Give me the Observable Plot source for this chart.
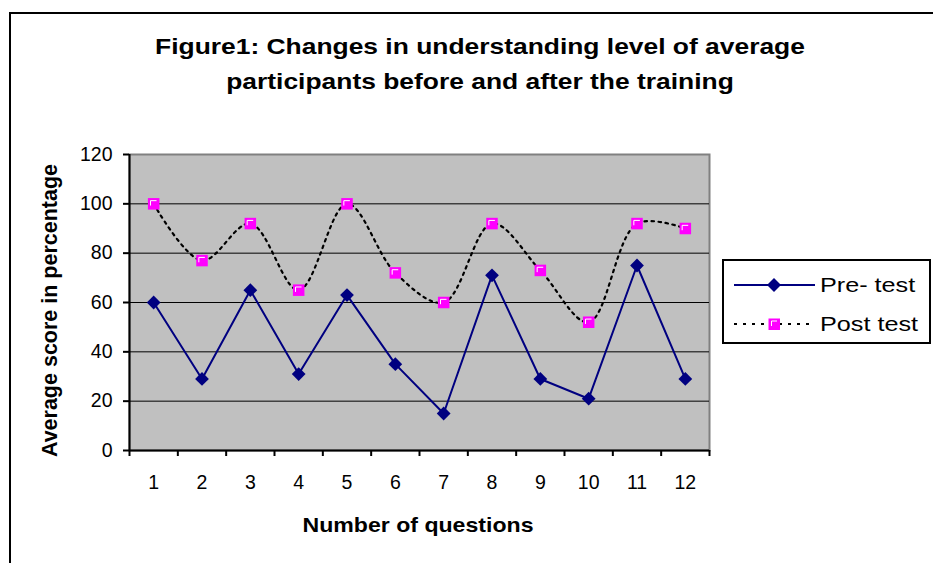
<!DOCTYPE html>
<html>
<head>
<meta charset="utf-8">
<script src="https://cdn.jsdelivr.net/npm/d3@7"></script>
<script src="https://cdn.jsdelivr.net/npm/@observablehq/plot@0.6"></script>
<style>
  html, body { margin: 0; padding: 0; background: #fff; }
  #wrap { position: relative; width: 933px; height: 563px; overflow: hidden; background: #fff;
          font-family: "Liberation Sans", Arial, sans-serif; color: #000; }
  #frame { position: absolute; left: 9px; top: 12px; width: 1200px; height: 1200px; border: 2px solid #000; box-sizing: border-box; }
  #plot { position: absolute; left: 0; top: 0; }
  .title { position: absolute; left: 0; top: 29px; width: 960px; text-align: center; font-weight: bold;
           font-size: 22px; line-height: 35px; transform: scaleX(1.2); transform-origin: 480px 0; }
  .xtitle { position: absolute; left: 218px; top: 514px; width: 400px; text-align: center; font-weight: bold;
            font-size: 21px; line-height: 21px; transform: scaleX(1.1); transform-origin: 200px 0; }
  .ytitle { position: absolute; left: -150px; top: 299.5px; width: 400px; text-align: center; font-weight: bold;
            font-size: 21.5px; line-height: 21px; transform: rotate(-90deg); transform-origin: 200px 10.5px; }
  #legend { position: absolute; left: 722px; top: 259px; width: 209px; height: 85px; border: 2px solid #000;
            box-sizing: border-box; background: #fff; }
  #legend .row { position: absolute; left: 0; height: 30px; width: 205px; }
  #legend svg { position: absolute; left: 8px; top: 0; }
  #legend span { position: absolute; left: 96px; top: 3px; font-size: 21px; line-height: 24px; transform: scaleX(1.2); transform-origin: 0 0; white-space: nowrap; }
</style>
</head>
<body>
<div id="wrap">
  <div id="frame"></div>
  <div id="plot"></div>
  <div class="title">Figure1: Changes in understanding level of average<br>participants before and after the training</div>
  <div class="ytitle">Average score in percentage</div>
  <div class="xtitle">Number of questions</div>
  <div id="legend"></div>
</div>
<script>
// ---- data ----
const questions = [1, 2, 3, 4, 5, 6, 7, 8, 9, 10, 11, 12];
const preTest  = [60, 29, 65, 31, 63, 35, 15, 71, 29, 21, 75, 29];
const postTest = [100, 77, 92, 65, 100, 72, 60, 92, 73, 52, 92, 90];
const yTicks = [0, 20, 40, 60, 80, 100, 120];
const seriesNames = ["Pre- test", "Post test"];

const preData = questions.map((q, i) => ({q, v: preTest[i]}));
const postData = questions.map((q, i) => ({q, v: postTest[i]}));
const boundaries = questions.map(q => q - 0.5).concat([questions[questions.length - 1] + 0.5]);
const gridValues = yTicks.filter(t => t > 0 && t < 120);

const NAVY = "#000080", MAGENTA = "#FF00FF";

// white corner glint drawn inside the magenta squares
const glint = {
  draw(context, size) {
    const h = Math.sqrt(size) / 2;
    context.moveTo(-h * 0.55, h * 0.3);
    context.lineTo(-h * 0.55, -h * 0.55);
    context.lineTo(h * 0.5, -h * 0.55);
  }
};

const chart = Plot.plot({
  width: 933,
  height: 563,
  marginLeft: 129,
  marginRight: 224,
  marginTop: 154,
  marginBottom: 113,
  style: {fontFamily: "'Liberation Sans', Arial, sans-serif", fontSize: "19.5px", background: "transparent", color: "#000", overflow: "visible"},
  x: {type: "linear", domain: [0.5, 12.5]},
  y: {domain: [0, 120]},
  marks: [
    Plot.frame({fill: "#C0C0C0", stroke: "#808080", strokeWidth: 2}),
    Plot.ruleY(gridValues, {stroke: "#000", strokeWidth: 1}),
    Plot.ruleY([0], {stroke: "#000", strokeWidth: 2}),
    Plot.ruleX([0.5], {stroke: "#000", strokeWidth: 2}),
    Plot.axisY({ticks: yTicks, tickSize: 6, tickPadding: 11, label: null, strokeWidth: 2, tickFormat: d => String(d)}),
    Plot.axisX({ticks: questions, tickSize: 0, tickPadding: 25, label: null, tickFormat: d => String(d)}),
    Plot.axisX({ticks: boundaries, tickSize: 6, label: null, strokeWidth: 2, tickFormat: () => ""}),
    Plot.line(postData, {x: "q", y: "v", curve: "catmull-rom", stroke: "#000", strokeWidth: 2.2, strokeDasharray: "2.5,4.5"}),
    Plot.line(preData, {x: "q", y: "v", stroke: NAVY, strokeWidth: 2}),
    Plot.dot(preData, {x: "q", y: "v", symbol: "diamond2", r: 6.2, fill: NAVY, stroke: "none"}),
    Plot.dot(postData, {x: "q", y: "v", symbol: "square", r: 6.5, fill: MAGENTA, stroke: "none"}),
    Plot.dot(postData, {x: "q", y: "v", symbol: glint, r: 6.5, fill: "none", stroke: "#fff", strokeWidth: 1})
  ]
});
document.getElementById("plot").appendChild(chart);

// ---- legend ----
const legend = document.getElementById("legend");
const rows = [
  {name: seriesNames[0], top: 9, svg:
    `<svg width="90" height="30"><line x1="2" y1="15" x2="83" y2="15" stroke="${NAVY}" stroke-width="2"/>
     <path d="M42,8 L49,15 L42,22 L35,15 Z" fill="${NAVY}"/></svg>`},
  {name: seriesNames[1], top: 48, svg:
    `<svg width="90" height="30"><line x1="2" y1="15" x2="83" y2="15" stroke="#000" stroke-width="2" stroke-dasharray="3,6"/>
     <rect x="36.5" y="9.5" width="11.5" height="11.5" fill="${MAGENTA}"/>
     <path d="M39.5,17 L39.5,12 L45,12" fill="none" stroke="#fff" stroke-width="1"/></svg>`}
];
rows.forEach(r => {
  const d = document.createElement("div");
  d.className = "row";
  d.style.top = r.top + "px";
  d.innerHTML = r.svg + `<span>${r.name}</span>`;
  legend.appendChild(d);
});
</script>
</body>
</html>
